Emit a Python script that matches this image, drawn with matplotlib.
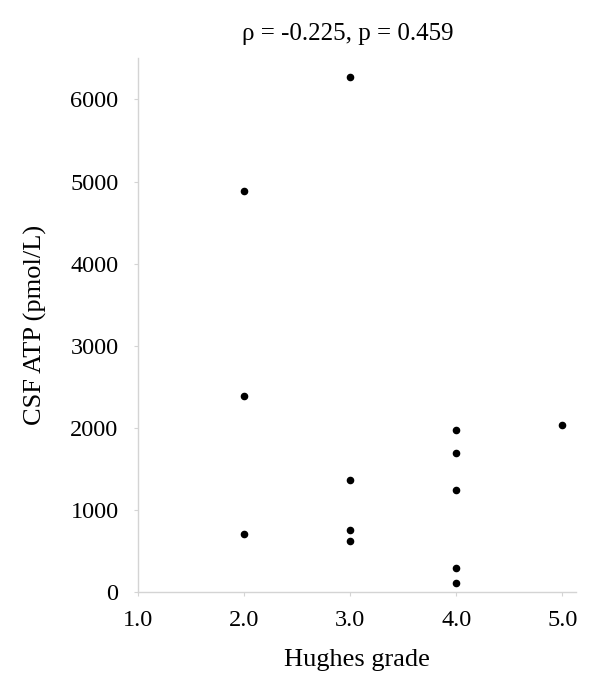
import matplotlib
matplotlib.use('Agg')
import matplotlib.pyplot as plt

plt.rcParams['font.family'] = ['Liberation Serif', 'DejaVu Serif']

# Данные: степень по Хьюзу и АТФ в ЦСЖ
hughes_grade = [2, 2, 2, 3, 3, 3, 3, 4, 4, 4, 4, 4, 5]
csf_atp = [4890, 2390, 710, 6270, 1360, 760, 620, 1980, 1700, 1240, 290, 110, 2040]

x_ticks = [1.0, 2.0, 3.0, 4.0, 5.0]
y_ticks = [0, 1000, 2000, 3000, 4000, 5000, 6000]

fig = plt.figure(figsize=(6, 6.95), dpi=100)
ax = fig.add_axes([0.23, 0.148, 0.73, 0.768])

ax.scatter(hughes_grade, csf_atp, s=20, color='black', zorder=3)

ax.set_xlim(1.0, 5.13)
ax.set_ylim(0, 6500)
ax.set_xticks(x_ticks)
ax.set_xticklabels([f'{t:.1f}' for t in x_ticks])
ax.set_yticks(y_ticks)

for side in ['top', 'right']:
    ax.spines[side].set_visible(False)
for side in ['left', 'bottom']:
    ax.spines[side].set_color('#d4d4d4')
    ax.spines[side].set_linewidth(1.0)
ax.tick_params(colors='#d4d4d4', labelcolor='black', labelsize=17.5, length=3, direction='out')
ax.tick_params(axis='y', pad=11)
ax.tick_params(axis='x', pad=10)

ax.set_xlabel('Hughes grade', fontsize=19, labelpad=13)
ax.set_ylabel('CSF ATP (pmol/L)', fontsize=19, labelpad=17)
ax.set_title('ρ = -0.225, p = 0.459', fontsize=18, pad=13, x=0.48)

plt.savefig('out.png', dpi=100)
plt.close()
